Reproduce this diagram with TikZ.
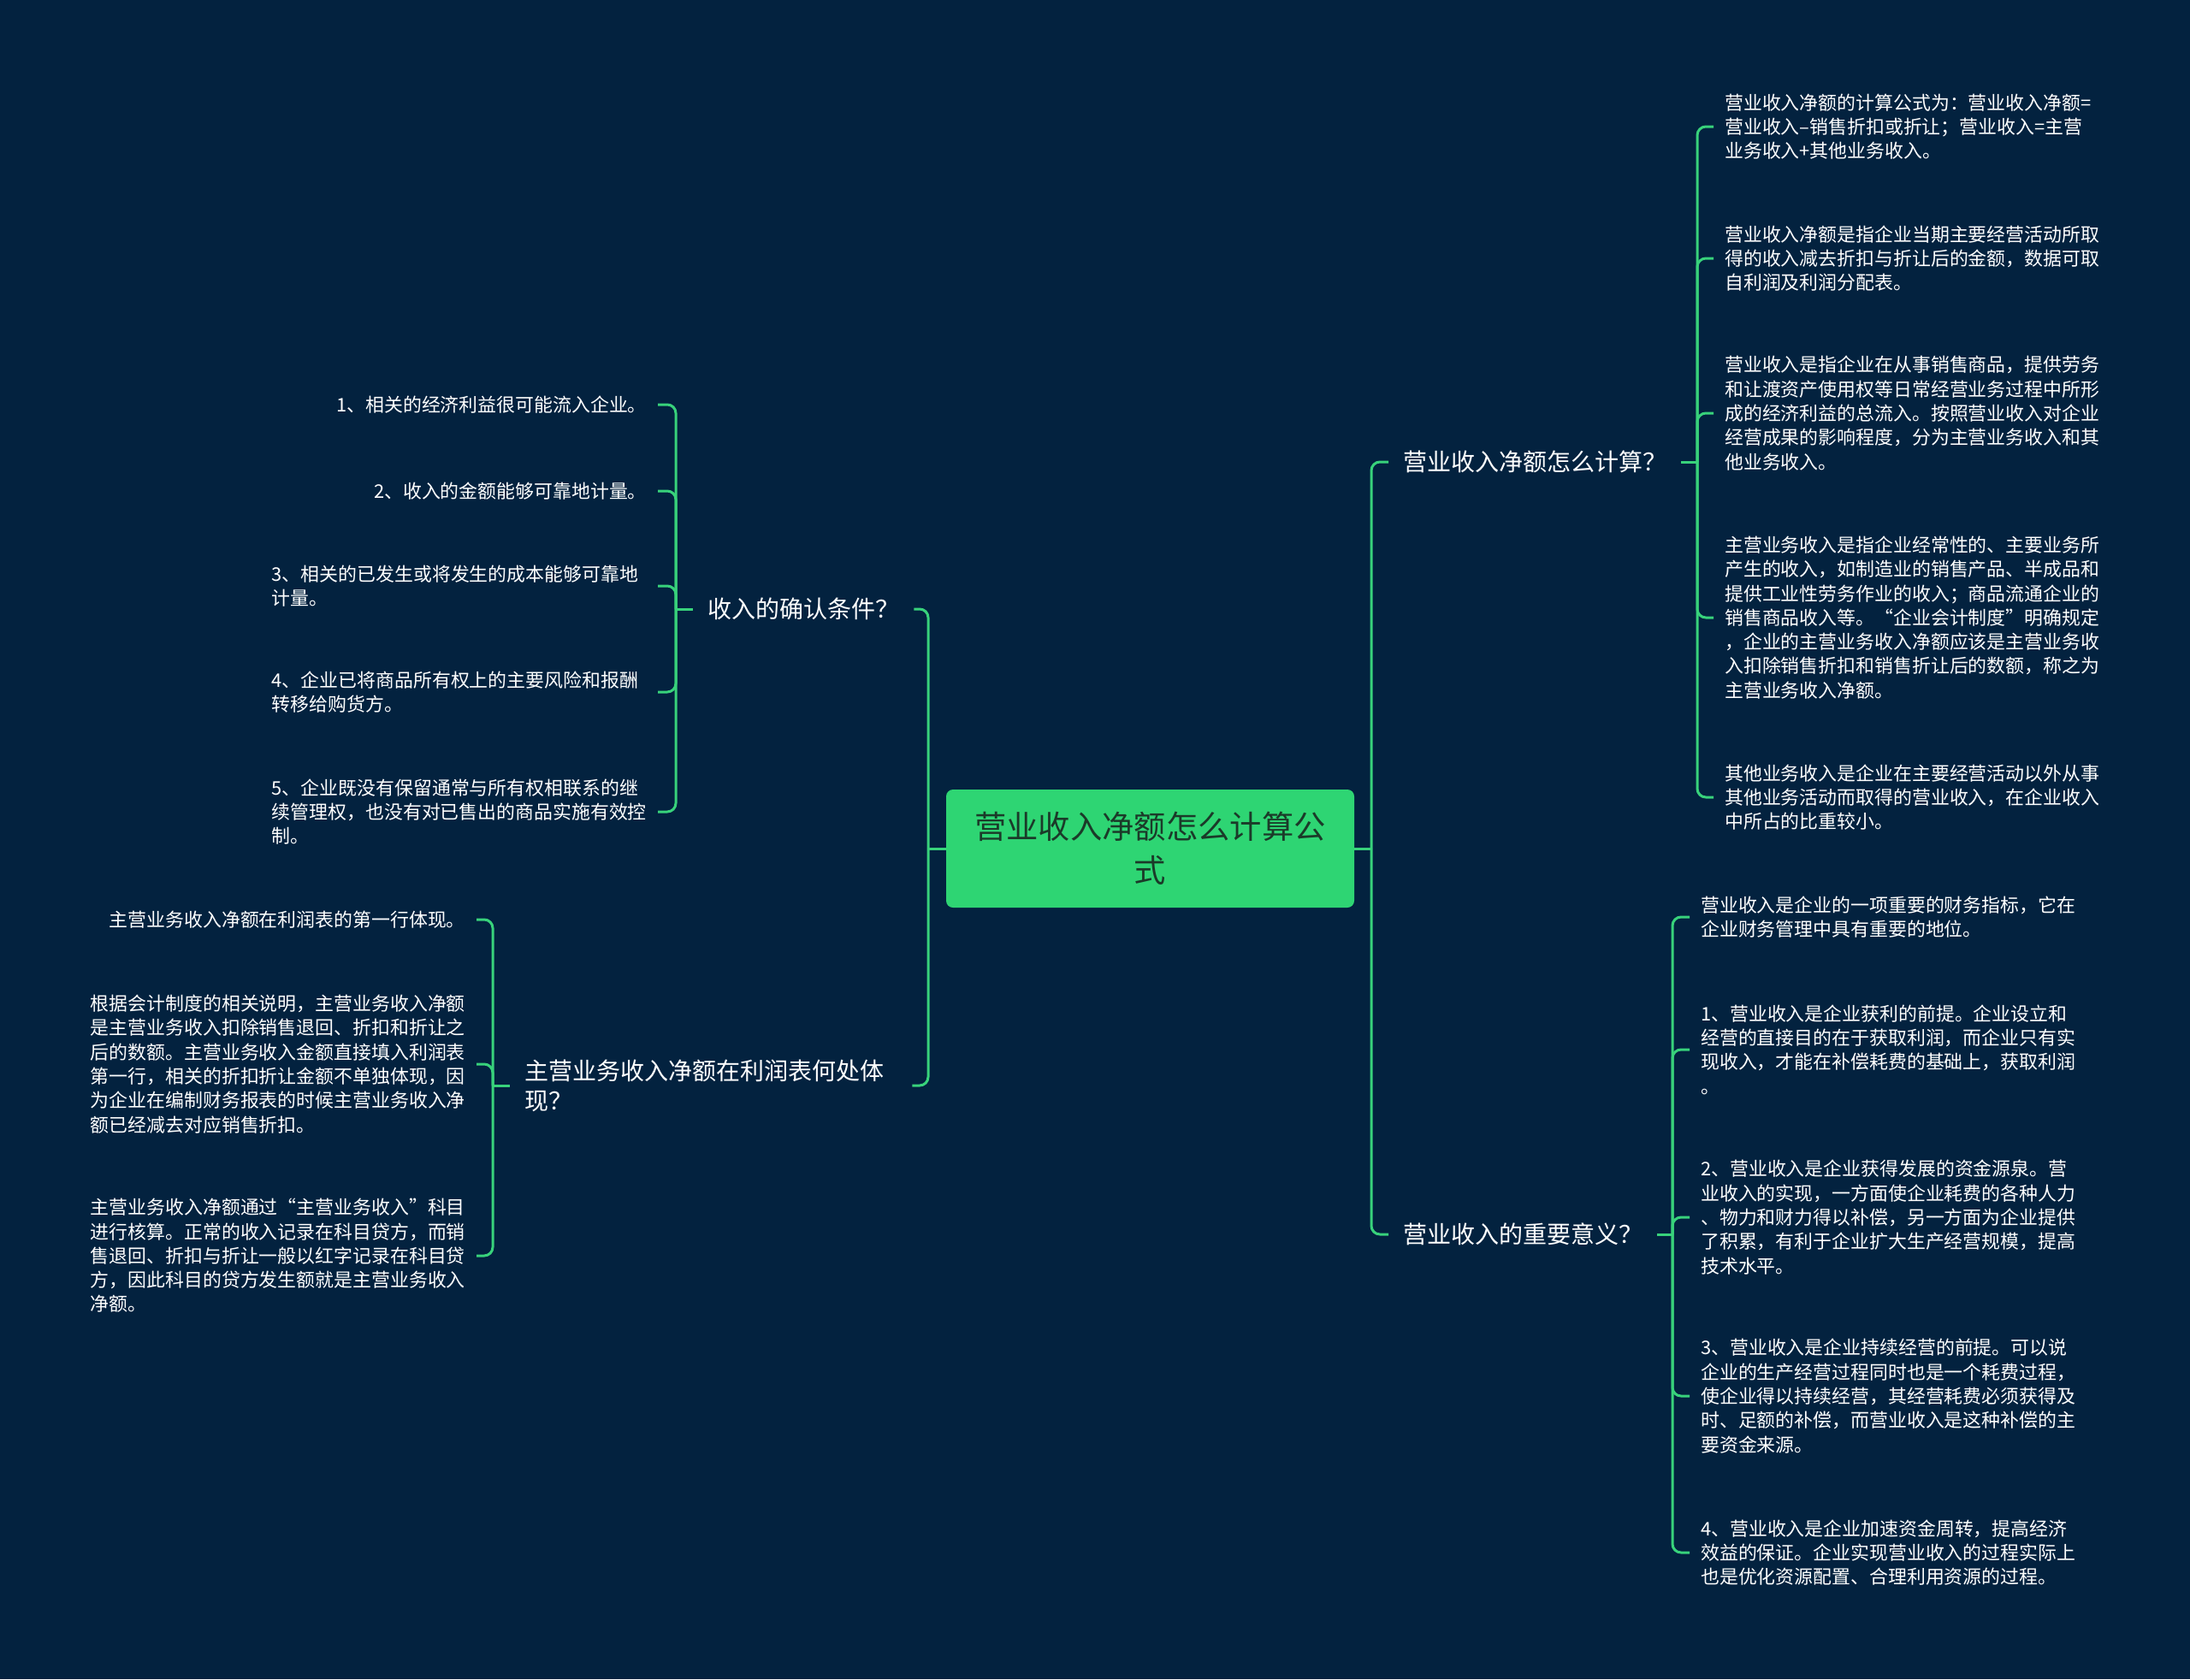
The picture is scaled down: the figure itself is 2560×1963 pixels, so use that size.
\documentclass[tikz,border=0pt]{standalone}
\usepackage{fontspec}
\setmainfont{Noto Sans CJK SC}
\definecolor{bgnavy}{HTML}{03223F}
\definecolor{linegreen}{HTML}{38D27B}
\definecolor{rootgreen}{HTML}{2ED573}
\definecolor{rootink}{HTML}{1B3A29}
\newcommand\leaffont{\fontsize{21.9pt}{28.3pt}\selectfont}
\newcommand\branchfont{\fontsize{28pt}{35pt}\selectfont}
\newcommand\rootfont{\fontsize{37.3pt}{51pt}\selectfont}

\begin{document}
\begin{tikzpicture}[x=1pt, y=-1pt,
    link/.style={linegreen, line width=3pt, rounded corners=10pt},
    leaf/.style={text=white, font=\leaffont, align=left, inner xsep=13pt},
    wide/.style={leaf, text width=438pt},
    branch/.style={text=white, font=\branchfont, align=left, inner xsep=17pt}]
    \fill[bgnavy] (0,0) rectangle (2560,1963);
    \useasboundingbox (0,0) rectangle (2560,1963);

    \node[fill=rootgreen, text=rootink, rounded corners=8pt, minimum width=477pt, minimum height=138pt,
      font=\rootfont, align=center] (root) at (1344.5,992) {营业收入净额怎么计算公\\式};

    \node[branch, anchor=west] (how) at (1623,540) {营业收入净额怎么计算？};
    \node[branch, anchor=west] (why) at (1623,1443) {营业收入的重要意义？};
    \node[branch, anchor=west] (cond) at (810,712) {收入的确认条件？};
    \node[branch, anchor=west, text width=436pt] (where) at (596,1269) {主营业务收入净额在利润表何处体\\现？};

    \node[leaf, anchor=west] (how1) at (2003,148) {营业收入净额的计算公式为：营业收入净额=\\营业收入–销售折扣或折让；营业收入=主营\\业务收入+其他业务收入。};
    \node[leaf, anchor=west] (how2) at (2003,302) {营业收入净额是指企业当期主要经营活动所取\\得的收入减去折扣与折让后的金额，数据可取\\自利润及利润分配表。};
    \node[leaf, anchor=west] (how3) at (2003,483) {营业收入是指企业在从事销售商品，提供劳务\\和让渡资产使用权等日常经营业务过程中所形\\成的经济利益的总流入。按照营业收入对企业\\经营成果的影响程度，分为主营业务收入和其\\他业务收入。};
    \node[leaf, anchor=west] (how4) at (2003,722) {主营业务收入是指企业经常性的、主要业务所\\产生的收入，如制造业的销售产品、半成品和\\提供工业性劳务作业的收入；商品流通企业的\\销售商品收入等。“企业会计制度”明确规定\\，企业的主营业务收入净额应该是主营业务收\\入扣除销售折扣和销售折让后的数额，称之为\\主营业务收入净额。};
    \node[leaf, anchor=west] (how5) at (2003,932) {其他业务收入是企业在主要经营活动以外从事\\其他业务活动而取得的营业收入，在企业收入\\中所占的比重较小。};

    \node[leaf, anchor=west] (why1) at (1975,1072) {营业收入是企业的一项重要的财务指标，它在\\企业财务管理中具有重要的地位。};
    \node[leaf, anchor=west] (why2) at (1975,1227) {1、营业收入是企业获利的前提。企业设立和\\经营的直接目的在于获取利润，而企业只有实\\现收入，才能在补偿耗费的基础上，获取利润\\。};
    \node[leaf, anchor=west] (why3) at (1975,1423) {2、营业收入是企业获得发展的资金源泉。营\\业收入的实现，一方面使企业耗费的各种人力\\、物力和财力得以补偿，另一方面为企业提供\\了积累，有利于企业扩大生产经营规模，提高\\技术水平。};
    \node[leaf, anchor=west] (why4) at (1975,1632) {3、营业收入是企业持续经营的前提。可以说\\企业的生产经营过程同时也是一个耗费过程，\\使企业得以持续经营，其经营耗费必须获得及\\时、足额的补偿，而营业收入是这种补偿的主\\要资金来源。};
    \node[leaf, anchor=west] (why5) at (1975,1815) {4、营业收入是企业加速资金周转，提高经济\\效益的保证。企业实现营业收入的过程实际上\\也是优化资源配置、合理利用资源的过程。};

    \node[leaf, anchor=east] (cond1) at (769,473) {1、相关的经济利益很可能流入企业。};
    \node[leaf, anchor=east] (cond2) at (769,574) {2、收入的金额能够可靠地计量。};
    \node[wide, anchor=east] (cond3) at (769,685) {3、相关的已发生或将发生的成本能够可靠地\\计量。};
    \node[wide, anchor=east] (cond4) at (769,809) {4、企业已将商品所有权上的主要风险和报酬\\转移给购货方。};
    \node[wide, anchor=east] (cond5) at (769,949) {5、企业既没有保留通常与所有权相联系的继\\续管理权，也没有对已售出的商品实施有效控\\制。};

    \node[leaf, anchor=east] (where1) at (557,1075) {主营业务收入净额在利润表的第一行体现。};
    \node[wide, anchor=east] (where2) at (557,1244) {根据会计制度的相关说明，主营业务收入净额\\是主营业务收入扣除销售退回、折扣和折让之\\后的数额。主营业务收入金额直接填入利润表\\第一行，相关的折扣折让金额不单独体现，因\\为企业在编制财务报表的时候主营业务收入净\\额已经减去对应销售折扣。};
    \node[wide, anchor=east] (where3) at (557,1468) {主营业务收入净额通过“主营业务收入”科目\\进行核算。正常的收入记录在科目贷方，而销\\售退回、折扣与折让一般以红字记录在科目贷\\方，因此科目的贷方发生额就是主营业务收入\\净额。};

    \coordinate (rj) at (1603,992);
    \coordinate (lj) at (1085,992);
    \coordinate (howj) at (1984,540);
    \coordinate (whyj) at (1955,1443);
    \coordinate (condj) at (790,712);
    \coordinate (wherej) at (576,1269);

    \draw[link] (root.east) -- (rj);
    \draw[link] (root.west) -- (lj);
    \foreach \n in {how,why} \draw[link] (rj) |- (\n.west);
    \foreach \n in {cond,where} \draw[link] (lj) |- (\n.east);

    \draw[link] (how.east) -- (howj);
    \draw[link] (why.east) -- (whyj);
    \draw[link] (cond.west) -- (condj);
    \draw[link] (where.west) -- (wherej);
    \foreach \i in {1,...,5} {
      \draw[link] (howj) |- (how\i.west);
      \draw[link] (whyj) |- (why\i.west);
      \draw[link] (condj) |- (cond\i.east);
    }
    \foreach \i in {1,2,3} \draw[link] (wherej) |- (where\i.east);
\end{tikzpicture}
\end{document}
